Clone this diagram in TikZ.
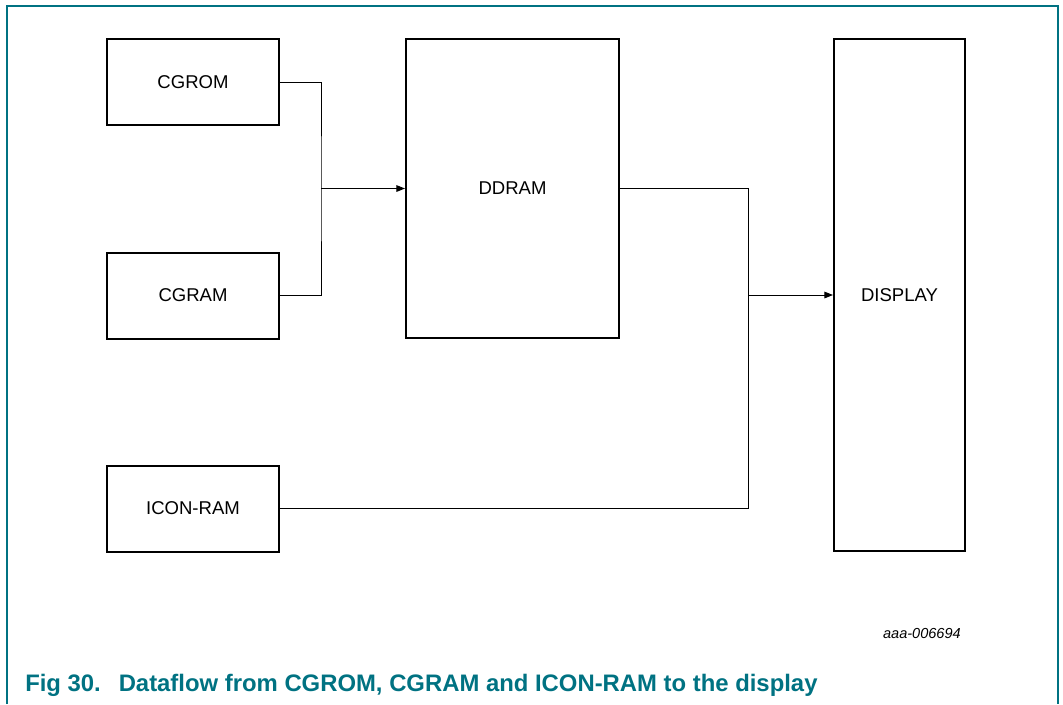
\documentclass[tikz,border=0pt]{standalone}
\usepackage{fontspec}
\setmainfont{Liberation Sans}
\usetikzlibrary{arrows.meta}
\definecolor{nxpteal}{RGB}{0,114,130}
\begin{document}
\begin{tikzpicture}[x=0.75pt,y=-0.75pt,
  blk/.style={draw=black,line width=1.5pt,inner sep=0pt,font=\fontsize{13.9}{16}\selectfont},
  conn/.style={draw=black,line width=0.75pt},
  arr/.style={conn,-{Triangle[length=6.5pt,width=5pt]}}]
\useasboundingbox (0,0) rectangle (1063,704);
\draw[nxpteal,line width=1.1pt] (7,704) -- (7,6) -- (1058,6) -- (1058,704);
\node[blk,minimum width=172*0.75pt,minimum height=86*0.75pt] (cgrom) at (193,82) {CGROM};
\node[blk,minimum width=172*0.75pt,minimum height=86*0.75pt] (cgram) at (193,295.5) {CGRAM};
\node[blk,minimum width=172*0.75pt,minimum height=86*0.75pt] (icon) at (193,508.5) {ICON-RAM};
\node[blk,minimum width=213*0.75pt,minimum height=299*0.75pt] (ddram) at (512.5,188.5) {DDRAM};
\node[blk,minimum width=131*0.75pt,minimum height=512*0.75pt] (disp) at (899.5,295) {DISPLAY};
\coordinate (j1) at (321,188.5);
\coordinate (j2) at (748,295);
\draw[conn] (cgrom.east) -| (j1) |- (cgram.east);
\draw[arr] (j1) -- (ddram.west);
\draw[conn] (ddram.east) -| (j2) |- (icon.east);
\draw[arr] (j2) -- (disp.west);
\node[anchor=base east,font=\fontsize{10.9}{13}\selectfont\itshape,inner sep=0pt] (lbl) at (961,638) {aaa-006694};
\node[anchor=base west,font=\fontsize{17.9}{21}\selectfont\bfseries,text=nxpteal,inner sep=0pt] (cap) at (25,691) {Fig 30.\hspace{0.75em}Dataflow from CGROM, CGRAM and ICON-RAM to the display};
\end{tikzpicture}
\end{document}
